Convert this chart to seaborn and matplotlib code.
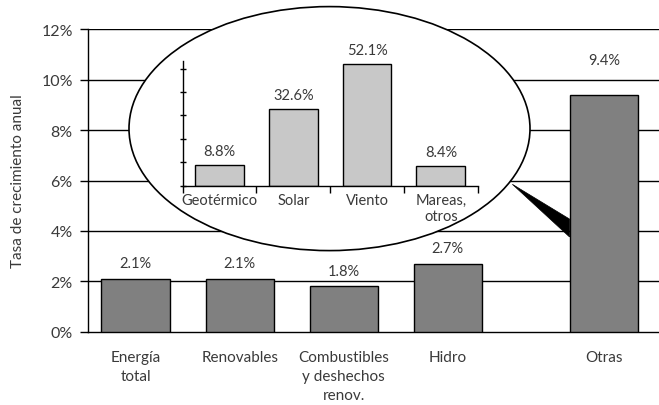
import matplotlib
matplotlib.use("Agg")
import matplotlib.pyplot as plt
from matplotlib.patches import Ellipse, Polygon
import seaborn as sns
import pandas as pd

# Growth rates by energy source (annual %)
main_categories = ["Energía\ntotal", "Renovables", "Combustibles\ny deshechos\nrenov.", "Hidro", "Otras"]
main_growth = [2.1, 2.1, 1.8, 2.7, 9.4]

# Breakdown of "Otras"
other_categories = ["Geotérmico", "Solar", "Viento", "Mareas,\notros"]
other_growth = [8.8, 32.6, 52.1, 8.4]

y_ticks = [0, 2, 4, 6, 8, 10, 12]
y_tick_labels = ["0%", "2%", "4%", "6%", "8%", "10%", "12%"]

# Slot positions on the x axis (the last bar is set apart from the rest)
slots = [0, 1, 2, 3, 4.5]

sns.set_theme(style="white")
plt.rcParams["font.family"] = ["Lato", "DejaVu Sans"]
text_color = "#3a3a3a"
fs = 11

fig = plt.figure(figsize=(6.59, 4.06), dpi=100)
ax = fig.add_axes([0.1335, 0.1805, 1.0 - 0.1335, 0.9254 - 0.1805])

main_df = pd.DataFrame({"slot": slots, "growth": main_growth})
sns.barplot(data=main_df, x="slot", y="growth", native_scale=True, width=0.66,
            color="#808080", saturation=1, edgecolor="black", linewidth=1.0,
            ax=ax, zorder=3)

ax.set_xlim(-0.46, 5.03)
ax.set_ylim(0, 12)
ax.set_yticks(y_ticks)
ax.set_yticklabels(y_tick_labels, fontsize=fs + 0.5, color=text_color)
ax.set_xticks(slots)
ax.set_xticklabels(main_categories, fontsize=fs, color=text_color, linespacing=1.45)
ax.tick_params(axis="x", length=0, pad=13)
ax.tick_params(axis="y", length=6, width=1, color="black", direction="out", pad=5, left=True)
ax.set_xlabel("")
ax.set_ylabel("Tasa de crecimiento anual", fontsize=fs, color=text_color, labelpad=12)

for y in [2, 4, 6, 8, 10, 12]:
    ax.axhline(y, color="black", lw=1.0, zorder=1)
for side in ["left", "bottom"]:
    ax.spines[side].set_color("black")
    ax.spines[side].set_linewidth(1.0)
ax.spines["right"].set_visible(False)
ax.spines["top"].set_visible(False)

# Value labels; the tall bar's label sits clear of the 10% line
for bar, v in zip(ax.containers[0], main_growth):
    pad = 20 if v > 9 else 6
    ax.annotate(f"{v:.1f}%", (bar.get_x() + bar.get_width() / 2, bar.get_height()),
                xytext=(0, pad), textcoords="offset points", ha="center", va="bottom",
                fontsize=10.5, color=text_color)

# Pointer from the callout to the "Otras" bar
bar_left = slots[-1] - 0.33
pointer = Polygon([(3.62, 5.85), (bar_left, 4.47), (bar_left, 3.76)], closed=True,
                  facecolor="black", edgecolor="black", lw=0.5, zorder=4)
ax.add_patch(pointer)

# Callout ellipse
callout = Ellipse((0.5, 0.6808), 0.6085, 0.601, transform=fig.transFigure,
                  facecolor="white", edgecolor="black", lw=1.2, zorder=1)
fig.patches.append(callout)

# Inset breakdown chart
inset = fig.add_axes([0.2772, 0.5401, 0.4477, 0.308], zorder=2)
inset.patch.set_alpha(0)
other_df = pd.DataFrame({"cat": other_categories, "growth": other_growth})
sns.barplot(data=other_df, x="cat", y="growth", width=0.66, color="#c8c8c8",
            saturation=1, edgecolor="black", linewidth=1.0, ax=inset)
inset.set_xlim(-0.5, 3.5)
inset.set_ylim(0, 53.4)
inset.set_yticks([0, 10, 20, 30, 40, 50])
inset.set_yticklabels([])
inset.tick_params(axis="y", length=4, width=1, color="black", direction="inout", left=True)
inset.set_xticks(range(4))
inset.set_xticklabels(other_categories, fontsize=10.5, color=text_color, linespacing=1.2)
inset.set_xticks([-0.5, 0.5, 1.5, 2.5, 3.5], minor=True)
inset.tick_params(axis="x", which="major", length=0, pad=5)
inset.tick_params(axis="x", which="minor", length=5, width=1, color="black",
                  direction="out", bottom=True)
inset.set_xlabel("")
inset.set_ylabel("")
for side in ["top", "right"]:
    inset.spines[side].set_visible(False)
for side in ["left", "bottom"]:
    inset.spines[side].set_color("black")
    inset.spines[side].set_linewidth(1.0)
inset.bar_label(inset.containers[0], labels=[f"{v:.1f}%" for v in other_growth],
                padding=5, fontsize=10.5, color=text_color)

fig.savefig("out.png", dpi=100)
